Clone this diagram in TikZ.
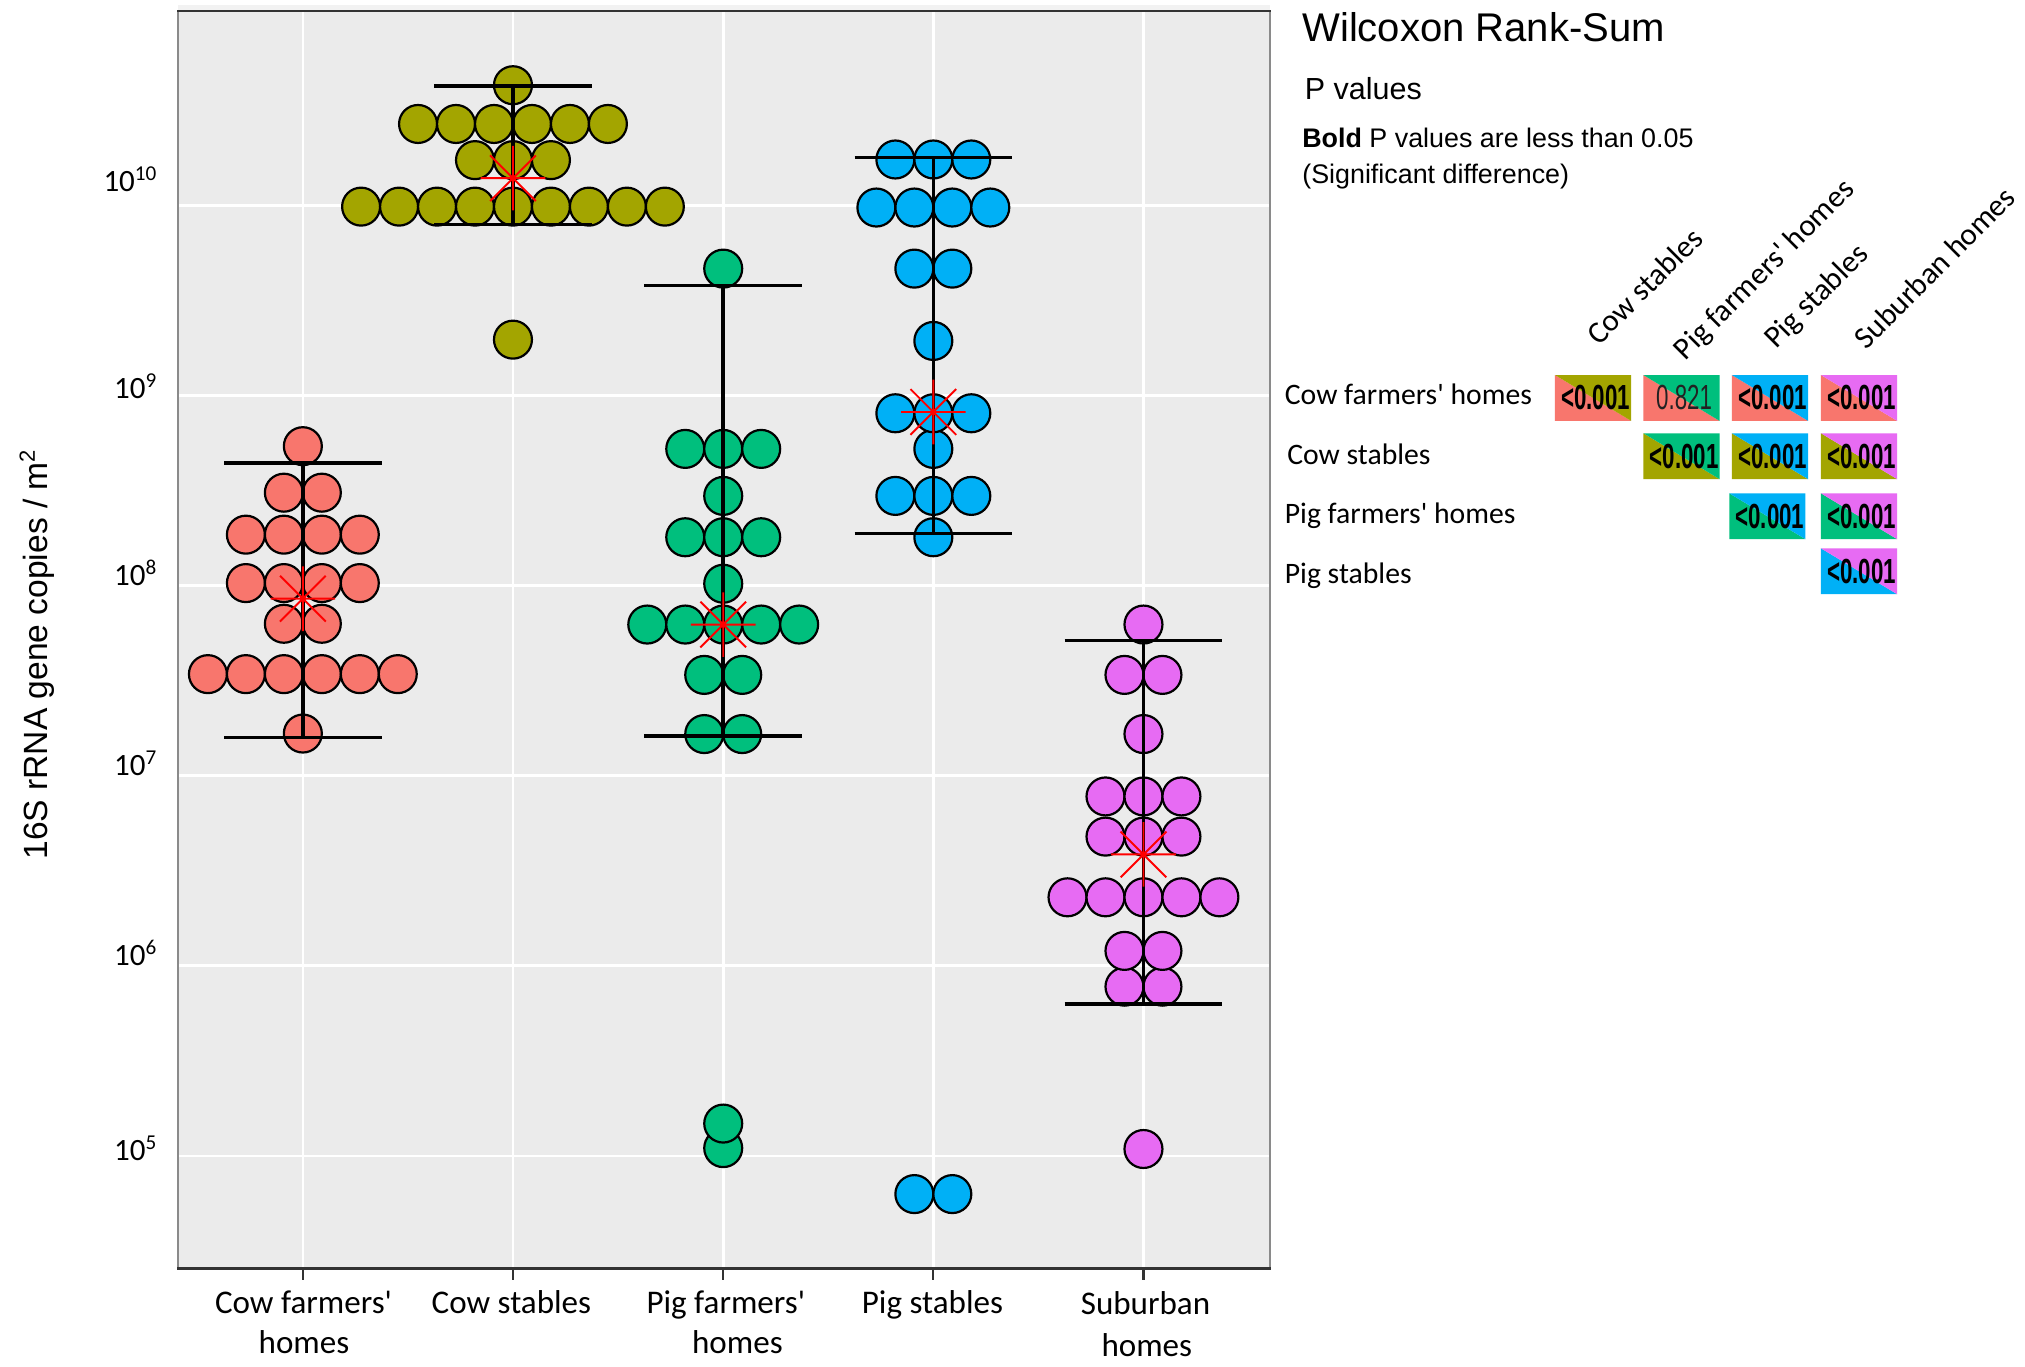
\documentclass[tikz,border=0pt]{standalone}
\usepackage{fontspec}
\usepackage{graphicx}
\setmainfont{Carlito}
\newfontfamily\arialf{Liberation Sans}
\newcommand{\apos}{\textquotesingle}
\definecolor{cCF}{HTML}{F8766D}
\definecolor{cCS}{HTML}{A3A500}
\definecolor{cPF}{HTML}{00BF7D}
\definecolor{cPS}{HTML}{00B0F6}
\definecolor{cSH}{HTML}{E76BF3}
\definecolor{panelbg}{HTML}{EBEBEB}
\definecolor{stripc}{HTML}{F2F2F2}
\definecolor{darkln}{HTML}{333333}
\definecolor{sideln}{HTML}{8A8A8A}
\definecolor{starred}{HTML}{FF0000}
\tikzset{
  gridw/.style={white, line width=1pt},
  barst/.style={black, line width=1.35pt},
  meanst/.style={starred, line width=0.75pt},
  dotst/.style={draw=black, line width=0.85pt},
  tickst/.style={darkln, line width=0.8pt},
  xlab/.style={font=\fontsize{12.8}{15}\selectfont, inner sep=0pt, anchor=base},
  ylab/.style={font=\fontsize{12}{14}\selectfont, inner sep=0pt, anchor=base east},
  rowlab/.style={font=\fontsize{11.5}{14}\selectfont, inner sep=0pt, anchor=base west},
  collab/.style={font=\fontsize{12}{14}\selectfont, inner sep=0pt, anchor=base west, rotate=45},
  celltext/.style={inner sep=0pt, font=\arialf\fontsize{13.5}{16}\selectfont},
  txtst/.style={inner sep=0pt, anchor=base west},
}
\newcommand{\dotrow}[4]{%
  \foreach \k in {1,...,#4}{%
    \filldraw[dotst, fill=#1] ({#2+(\k-(#4+1)/2)*29.4},#3) circle[radius=7.35pt];
  }}
\newcommand{\errbar}[3]{%
  \draw[barst] (#1,#2) -- (#1,#3);
  \draw[barst] ({#1-61},#2) -- ({#1+61},#2);
  \draw[barst] ({#1-61},#3) -- ({#1+61},#3);}
\newcommand{\meanstar}[2]{%
  \draw[meanst] ({#1-25},#2) -- ({#1+25},#2)
    (#1,{#2-25}) -- (#1,{#2+25})
    ({#1-17.7},{#2-17.7}) -- ({#1+17.7},{#2+17.7})
    ({#1-17.7},{#2+17.7}) -- ({#1+17.7},{#2-17.7});
  \fill[starred] (#1,#2) circle[radius=1.2pt];}
\newcommand{\pcell}[6]{%
  \fill[#3] (#1,#2) -- (#1,{#2+35.5}) -- ({#1+59},{#2+35.5}) -- cycle;
  \fill[#4] (#1,#2) -- ({#1+59},#2) -- ({#1+59},{#2+35.5}) -- cycle;
  \node[celltext] (#6) at ({#1+31.5},{#2+17.75}) {#5};}
\newcommand{\sig}{\scalebox{0.64}[1]{\bfseries <0.001}}
\newcommand{\ytick}[1]{10\raisebox{4.3pt}{\fontsize{8.2}{9}\selectfont #1}}
\begin{document}
\begin{tikzpicture}[x=0.5pt,y=-0.5pt]
\useasboundingbox[fill=white] (0,0) rectangle (1568,1058);
% panel
\fill[stripc] (137.6,4) rectangle (983.4,8.3);
\fill[panelbg] (137.6,8.3) rectangle (983.4,982);
\foreach \yy in {159,306.2,453.4,600.6,747.8,895}
  \draw[gridw] (137.6,\yy) -- (983.4,\yy);
\foreach \xx in {234.5,397.2,560,722.7,885.4}{
  \draw[gridw] (\xx,8.3) -- (\xx,982);
  \draw[tickst] (\xx,983) -- (\xx,991);}
\draw[sideln, line width=0.85pt] (137.6,8.3) -- (137.6,982);
\draw[sideln, line width=0.85pt] (983.4,8.3) -- (983.4,982);
\draw[darkln, line width=0.9pt] (137.2,8.3) -- (983.8,8.3);
\draw[darkln, line width=1pt] (137.2,982) -- (983.8,982);

% Cow farmers' homes
\dotrow{cCF}{234.5}{568}{1}
\dotrow{cCF}{234.5}{522}{6}
\dotrow{cCF}{234.5}{483}{2}
\dotrow{cCF}{234.5}{451.5}{4}
\dotrow{cCF}{234.5}{414}{4}
\dotrow{cCF}{234.5}{381.5}{2}
\dotrow{cCF}{234.5}{345.5}{1}
\errbar{234.5}{358.5}{571}
\meanstar{234.5}{463.6}

% Cow stables
\dotrow{cCS}{397.2}{263}{1}
\dotrow{cCS}{397.2}{160}{9}
\dotrow{cCS}{397.2}{124}{3}
\dotrow{cCS}{397.2}{96}{6}
\dotrow{cCS}{397.2}{66}{1}
\errbar{397.2}{66.6}{173.7}
\meanstar{397.2}{138}

% Pig farmers' homes
\dotrow{cPF}{560}{889}{1}
\dotrow{cPF}{560}{870}{1}
\dotrow{cPF}{560}{568.4}{2}
\dotrow{cPF}{560}{522.6}{2}
\dotrow{cPF}{560}{483.6}{5}
\dotrow{cPF}{560}{452}{1}
\dotrow{cPF}{560}{416}{3}
\dotrow{cPF}{560}{384}{1}
\dotrow{cPF}{560}{347.6}{3}
\dotrow{cPF}{560}{208}{1}
\errbar{560}{221}{570}
\meanstar{560}{483.6}

% Pig stables
\dotrow{cPS}{722.7}{924.6}{2}
\dotrow{cPS}{722.7}{416}{1}
\dotrow{cPS}{722.7}{384}{3}
\dotrow{cPS}{722.7}{347.6}{1}
\dotrow{cPS}{722.7}{320}{3}
\dotrow{cPS}{722.7}{264}{1}
\dotrow{cPS}{722.7}{208}{2}
\dotrow{cPS}{722.7}{160.7}{4}
\dotrow{cPS}{722.7}{123.5}{3}
\errbar{722.7}{122}{413}
\meanstar{722.7}{319}

% Suburban homes
\dotrow{cSH}{885.4}{889.7}{1}
\dotrow{cSH}{885.4}{764}{2}
\dotrow{cSH}{885.4}{736.3}{2}
\dotrow{cSH}{885.4}{694.8}{5}
\dotrow{cSH}{885.4}{647.8}{3}
\dotrow{cSH}{885.4}{616.7}{3}
\dotrow{cSH}{885.4}{568.4}{1}
\dotrow{cSH}{885.4}{522.6}{2}
\dotrow{cSH}{885.4}{483.6}{1}
\errbar{885.4}{495.8}{777.4}
\meanstar{885.4}{661.6}

% y tick labels
\node[ylab] (y10) at (121.5,148.6) {\ytick{10}};
\node[ylab] (y9) at (121.5,308.6) {\ytick{9}};
\node[ylab] (y8) at (121.5,453.6) {\ytick{8}};
\node[ylab] (y7) at (121.5,600.6) {\ytick{7}};
\node[ylab] (y6) at (121.5,747.6) {\ytick{6}};
\node[ylab] (y5) at (121.5,898.6) {\ytick{5}};

% y axis title
\node[inner sep=0pt, anchor=base, rotate=90, font=\arialf\fontsize{13}{15}\selectfont] (ytitle) at (37,507)
  {16S rRNA gene copies / m\raisebox{5pt}{\fontsize{8.5}{9}\selectfont 2}};

% x labels
\node[xlab] (xa1) at (235,1017) {Cow farmers\apos};
\node[xlab] (xa2) at (235.4,1048) {homes};
\node[xlab] (xb1) at (396,1017) {Cow stables};
\node[xlab] (xc1) at (562,1017) {Pig farmers\apos};
\node[xlab] (xc2) at (571,1048) {homes};
\node[xlab] (xd1) at (722,1017) {Pig stables};
\node[xlab] (xe1) at (887,1018) {Suburban};
\node[xlab] (xe2) at (888,1050) {homes};

% right-hand texts
\node[txtst, font=\arialf\fontsize{15.5}{18}\selectfont] (title) at (1008,32) {Wilcoxon Rank-Sum};
\node[txtst, font=\arialf\fontsize{11.8}{14}\selectfont] (pval) at (1010,77.4) {P values};
\node[txtst, font=\arialf\fontsize{10.4}{12}\selectfont] (boldnote) at (1008,114.3) {\textbf{Bold} P values are less than 0.05};
\node[txtst, font=\arialf\fontsize{10.4}{12}\selectfont] (signote) at (1008,142) {(Significant difference)};

% row labels
\node[rowlab] (r1) at (994.5,313.6) {Cow farmers\apos{} homes};
\node[rowlab] (r2) at (996.4,359.3) {Cow stables};
\node[rowlab] (r3) at (994.5,405.2) {Pig farmers\apos{} homes};
\node[rowlab] (r4) at (994.5,452.2) {Pig stables};

% column labels
\node[collab] (c1) at (1238,268.5) {Cow stables};
\node[collab] (c2) at (1305,280) {Pig farmers\apos{} homes};
\node[collab] (c3) at (1375,271) {Pig stables};
\node[collab] (c4) at (1445,271.5) {Suburban homes};

% cells
\pcell{1204}{290.4}{cCF}{cCS}{\sig}{p12}
\pcell{1272.5}{290.4}{cCF}{cPF}{\scalebox{0.64}[1]{\color[HTML]{222222}0.821}}{p13}
\pcell{1341}{290.4}{cCF}{cPS}{\sig}{p14}
\pcell{1410}{290.4}{cCF}{cSH}{\sig}{p15}
\pcell{1272.5}{335.5}{cCS}{cPF}{\sig}{p23}
\pcell{1341}{335.5}{cCS}{cPS}{\sig}{p24}
\pcell{1410}{335.5}{cCS}{cSH}{\sig}{p25}
\pcell{1339}{382}{cPF}{cPS}{\sig}{p34}
\pcell{1410}{382}{cPF}{cSH}{\sig}{p35}
\pcell{1410}{424.6}{cPS}{cSH}{\sig}{p45}
\end{tikzpicture}
\end{document}
